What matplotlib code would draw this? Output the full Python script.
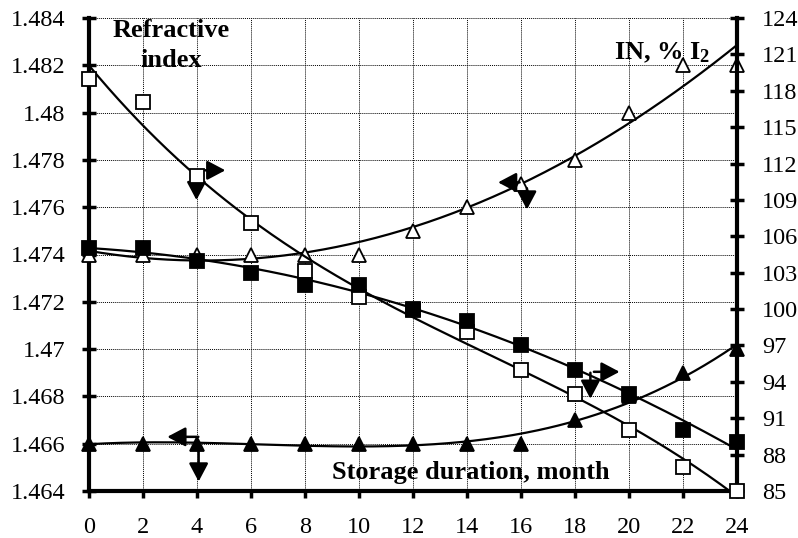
import numpy as np
import matplotlib
matplotlib.use('Agg')
import matplotlib.pyplot as plt

plt.rcParams['font.family'] = 'Liberation Serif'
plt.rcParams['mathtext.fontset'] = 'custom'
plt.rcParams['mathtext.rm'] = 'Liberation Serif:bold'
plt.rcParams['mathtext.it'] = 'Liberation Serif:bold'
plt.rcParams['mathtext.bf'] = 'Liberation Serif:bold'

# data
months = [0, 2, 4, 6, 8, 10, 12, 14, 16, 18, 20, 22, 24]
ri_open = [1.474, 1.474, 1.474, 1.474, 1.474, 1.474, 1.475, 1.476, 1.477, 1.478, 1.480, 1.482, 1.482]
ri_filled = [1.466, 1.466, 1.466, 1.466, 1.466, 1.466, 1.466, 1.466, 1.466, 1.467, 1.468, 1.469, 1.470]
in_open = [119.0, 117.1, 111.0, 107.1, 103.1, 101.0, 99.9, 98.1, 95.0, 93.0, 90.0, 87.0, 85.0]
in_filled = [105.0, 105.0, 104.0, 103.0, 102.0, 102.0, 100.0, 99.0, 97.0, 95.0, 93.0, 90.0, 89.0]

left_ticks = [1.464, 1.466, 1.468, 1.47, 1.472, 1.474, 1.476, 1.478, 1.48, 1.482, 1.484]
left_labels = ['1.464', '1.466', '1.468', '1.47', '1.472', '1.474', '1.476', '1.478', '1.48', '1.482', '1.484']
right_ticks = [85, 88, 91, 94, 97, 100, 103, 106, 109, 112, 115, 118, 121, 124]

fig = plt.figure(figsize=(7.98, 5.38), dpi=100)
ax = fig.add_axes([89 / 798, 1 - 491 / 538, (737 - 89) / 798, (491 - 18) / 538])
ax2 = ax.twinx()

xs = np.linspace(0, 24, 200)

def trend(ax_, y, deg):
    c = np.polyfit(months, y, deg)
    ax_.plot(xs, np.polyval(c, xs), color='black', lw=1.6, zorder=3)

# trend lines (polynomial fits, like the spreadsheet trendlines)
trend(ax, ri_open, 2)
trend(ax, ri_filled, 3)
trend(ax2, in_open, 3)
trend(ax2, in_filled, 2)

mk = dict(linestyle='none', markersize=10.5, markeredgewidth=1.3, markeredgecolor='black', zorder=5, clip_on=False)
ax.plot(months, ri_open, marker='^', markerfacecolor='white', **mk)
ax.plot(months, ri_filled, marker='^', markerfacecolor='black', **mk)
ax2.plot(months, in_open, marker='s', markerfacecolor='white', **mk)
ax2.plot(months, in_filled, marker='s', markerfacecolor='black', **mk)

ax.set_xlim(0, 24)
ax.set_ylim(1.464, 1.484)
ax2.set_ylim(85, 124)
ax.set_xticks(months)
ax.set_yticks(left_ticks)
ax.set_yticklabels(left_labels)
ax2.set_yticks(right_ticks)

ax.grid(True, color='black', linestyle=(0, (1, 1)), linewidth=0.7)
ax.set_axisbelow(True)

for s in ['top', 'right']:
    ax.spines[s].set_visible(False)
for s in ['top', 'left', 'bottom']:
    ax2.spines[s].set_visible(False)
ax.spines['left'].set_linewidth(3)
ax.spines['bottom'].set_linewidth(3)
ax2.spines['right'].set_linewidth(3)

ax.tick_params(axis='y', direction='inout', length=10, width=2.5, labelsize=17.5, pad=12)
ax.tick_params(axis='x', direction='out', length=5, width=2.5, labelsize=17.5, pad=14)
ax2.tick_params(axis='y', direction='inout', length=10, width=2.5, labelsize=17.5, pad=13)

# arrows showing which axis each series belongs to
arr = dict(arrowstyle='-|>,head_length=0.85,head_width=0.45', color='black', lw=1.8,
           mutation_scale=13, shrinkA=0, shrinkB=0)
arrows = [((4.3, 1.47756), (5.05, 1.47756)), ((3.98, 1.4773), (3.98, 1.4763)),
          ((15.95, 1.47705), (15.15, 1.47705)), ((16.22, 1.4768), (16.22, 1.4759)),
          ((4.05, 1.46629), (2.9, 1.46629)), ((4.06, 1.4659), (4.06, 1.4644)),
          ((18.7, 1.46904), (19.65, 1.46904)), ((18.57, 1.4690), (18.57, 1.4679))]
for tail, head in arrows:
    ax.annotate('', xy=head, xytext=tail, arrowprops=arr, zorder=6)

ax.text(3.05, 1.48284, 'Refractive\nindex', ha='center', va='center', fontsize=19,
        fontweight='bold', linespacing=1.35)
ax2.text(23.0, 121.1, r'IN, % I$_2$', ha='right', va='center', fontsize=19, fontweight='bold')
ax.text(14.15, 1.4648, 'Storage duration, month', ha='center', va='center', fontsize=19,
        fontweight='bold')

fig.savefig('out.png', dpi=100)
